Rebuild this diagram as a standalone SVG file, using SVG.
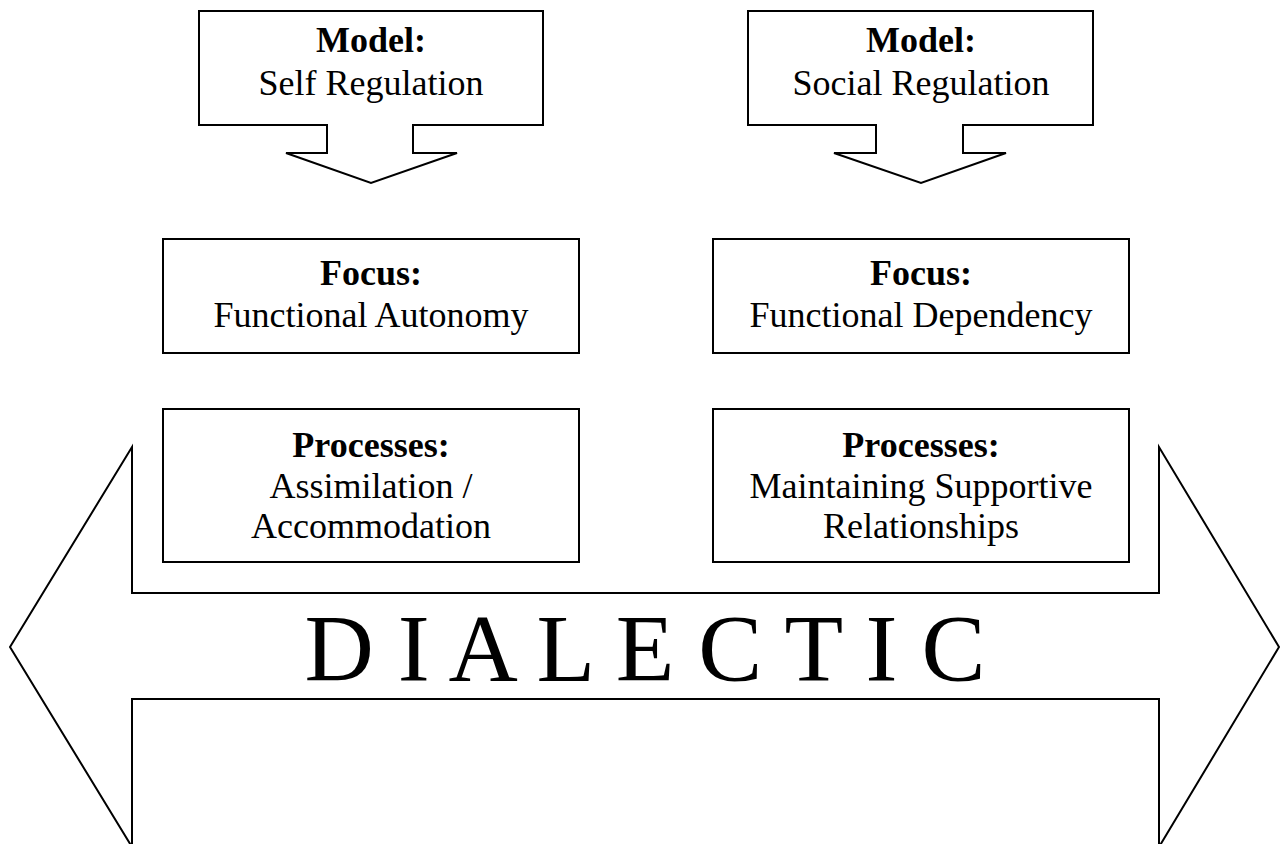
<svg xmlns="http://www.w3.org/2000/svg" width="1280" height="844" viewBox="0 0 1280 844">
  <style>
    .shape { fill: #ffffff; stroke: #000000; stroke-width: 2; stroke-linejoin: miter; }
    .label { font-family: "Liberation Serif", "Times New Roman", serif; font-size: 36px; fill: #000000; text-anchor: middle; }
    .head { font-weight: bold; }
    .big { font-family: "Liberation Serif", "Times New Roman", serif; font-size: 96px; fill: #000000; text-anchor: middle; }
  </style>
  <rect width="1280" height="844" fill="#ffffff"/>

  <!-- double-headed dialectic arrow -->
  <g id="dialectic">
    <polygon class="shape" points="10,647 132,447 132,593 1159,593 1159,447 1279,647 1159,847 1159,699 132,699 132,847"/>
    <text class="big" x="645" y="681">D I A L E C T I C</text>
  </g>

  <!-- model callouts (box with downward arrow) -->
  <g id="model-self">
    <polygon class="shape" points="199,11 543,11 543,125 413,125 413,153 457,153 371,183 286,153 327,153 327,125 199,125"/>
    <text class="label head" x="371" y="52">Model:</text>
    <text class="label" x="371" y="95">Self Regulation</text>
  </g>
  <g id="model-social">
    <polygon class="shape" points="748,11 1093,11 1093,125 963,125 963,153 1006,153 921,183 834,153 876,153 876,125 748,125"/>
    <text class="label head" x="921" y="52">Model:</text>
    <text class="label" x="921" y="95">Social Regulation</text>
  </g>

  <!-- focus boxes -->
  <g id="focus-autonomy">
    <rect class="shape" x="163" y="239" width="416" height="114"/>
    <text class="label head" x="371" y="285">Focus:</text>
    <text class="label" x="371" y="327">Functional Autonomy</text>
  </g>
  <g id="focus-dependency">
    <rect class="shape" x="713" y="239" width="416" height="114"/>
    <text class="label head" x="921" y="285">Focus:</text>
    <text class="label" x="921" y="327">Functional Dependency</text>
  </g>

  <!-- process boxes -->
  <g id="processes-assimilation">
    <rect class="shape" x="163" y="409" width="416" height="153"/>
    <text class="label head" x="371" y="457">Processes:</text>
    <text class="label" x="371" y="498">Assimilation /</text>
    <text class="label" x="371" y="538">Accommodation</text>
  </g>
  <g id="processes-supportive">
    <rect class="shape" x="713" y="409" width="416" height="153"/>
    <text class="label head" x="921" y="457">Processes:</text>
    <text class="label" x="921" y="498">Maintaining Supportive</text>
    <text class="label" x="921" y="538">Relationships</text>
  </g>

  <g id="connectors"></g>
</svg>
